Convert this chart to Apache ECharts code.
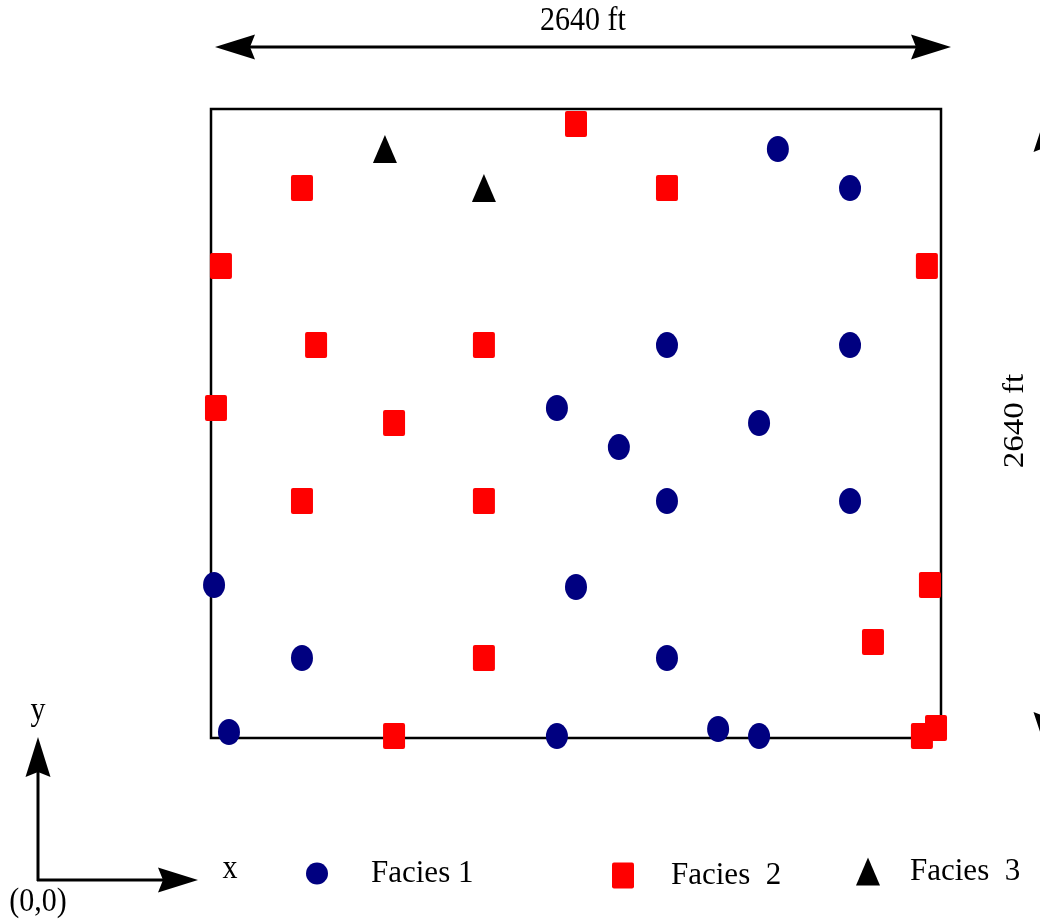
<!DOCTYPE html>
<html>
<head>
<meta charset="utf-8">
<script src="https://cdn.jsdelivr.net/npm/echarts@6/dist/echarts.min.js"></script>
<style>
html,body{margin:0;padding:0;background:#fff;}
#chart{width:1040px;height:920px;}
</style>
</head>
<body>
<div id="chart"></div>
<script>
// Data (feet, origin at lower-left of the 2640 ft section)
const extentFt = 2640;
const facies1X = [2050, 2311, 1649, 2311, 1251, 1475, 1982, 1649, 2311, 11, 1320, 329, 1649, 65, 1251, 1834, 1982];
const facies1Y = [2472, 2308, 1649, 1649, 1385, 1221, 1322, 995, 995, 642, 634, 336, 336, 25, 8, 38, 8];
const facies2X = [1320, 329, 1649, 36, 2589, 380, 987, 18, 662, 329, 987, 2600, 2394, 987, 662, 2571, 2622];
const facies2Y = [2577, 2308, 2308, 1981, 1981, 1649, 1649, 1385, 1322, 995, 995, 642, 403, 336, 8, 8, 42];
const facies3X = [629, 987];
const facies3Y = [2472, 2308];
const seriesNames = ['Facies 1', 'Facies  2', 'Facies  3'];
const dimLabel = '2640 ft';

const zip = (xs, ys) => xs.map((x, i) => [x, ys[i]]);
const serif = '"Liberation Serif", "DejaVu Serif", serif';
const rectSymbol = 'path://M2,0 H20 Q22,0 22,2 V24 Q22,26 20,26 H2 Q0,26 0,24 V2 Q0,0 2,0 Z';

function arrowHead(tx, ty, dx, dy, L, W, notch) {
  const nx = -dy, ny = dx;
  return [
    [tx, ty],
    [tx - dx * L + nx * W, ty - dy * L + ny * W],
    [tx - dx * (L - notch), ty - dy * (L - notch)],
    [tx - dx * L - nx * W, ty - dy * L - ny * W]
  ];
}
const AL = 40, AW = 12.5, AN = 5;
const blk = { fill: '#000' };
const lineStyle = { stroke: '#000', lineWidth: 3 };
const txt = (x, y, text, extra) => Object.assign({
  type: 'text', x: x, y: y, scaleY: 1.1,
  style: { text: text, font: '30px ' + serif, fill: '#000', textAlign: 'center', textVerticalAlign: 'middle' }
}, extra || {});

const graphics = [
  // top dimension arrow
  { type: 'line', shape: { x1: 225, y1: 47, x2: 940, y2: 47 }, style: lineStyle },
  { type: 'polygon', shape: { points: arrowHead(215, 47, -1, 0, AL, AW, AN) }, style: blk },
  { type: 'polygon', shape: { points: arrowHead(951, 47, 1, 0, AL, AW, AN) }, style: blk },
  txt(583, 21, dimLabel),
  // right dimension arrow (mostly off canvas)
  { type: 'line', shape: { x1: 1046, y1: 126, x2: 1046, y2: 738 }, style: lineStyle },
  { type: 'polygon', shape: { points: arrowHead(1046, 114, 0, -1, 38, 12.5, AN) }, style: blk },
  { type: 'polygon', shape: { points: arrowHead(1046, 750, 0, 1, 38, 12.5, AN) }, style: blk },
  { type: 'text', x: 1015, y: 421, rotation: Math.PI / 2, scaleX: 1.1, style: { text: dimLabel, font: '30px ' + serif, fill: '#000', textAlign: 'center', textVerticalAlign: 'middle' } },
  // coordinate axes glyph
  { type: 'line', shape: { x1: 38, y1: 881, x2: 38, y2: 760 }, style: lineStyle },
  { type: 'polygon', shape: { points: arrowHead(38, 737, 0, -1, AL, AW, AN) }, style: blk },
  { type: 'line', shape: { x1: 37, y1: 880, x2: 175, y2: 880 }, style: lineStyle },
  { type: 'polygon', shape: { points: arrowHead(198, 880, 1, 0, AL, AW, AN) }, style: blk },
  txt(38, 711, 'y'),
  txt(230, 869, 'x'),
  txt(38, 902, '(0,0)')
];

const legendText = (pad) => ({ fontFamily: serif, fontSize: 31, color: '#000', padding: [0, 0, 0, pad] });

const chart = echarts.init(document.getElementById('chart'), null, { renderer: 'canvas' });
chart.setOption({
  animation: false,
  backgroundColor: '#fff',
  grid: { left: 211, right: 99, top: 109, bottom: 182, show: true, borderColor: '#000', borderWidth: 2.5, backgroundColor: 'transparent' },
  xAxis: { type: 'value', min: 0, max: extentFt, show: false, splitLine: { show: false } },
  yAxis: { type: 'value', min: 0, max: extentFt, show: false, splitLine: { show: false } },
  legend: [
    { data: [seriesNames[0]], left: 301, top: 853, itemWidth: 22, itemHeight: 26, textStyle: legendText(38), itemStyle: { borderWidth: 0 } },
    { data: [seriesNames[1]], left: 607, top: 855, itemWidth: 22, itemHeight: 26, textStyle: legendText(32), itemStyle: { borderWidth: 0 } },
    { data: [seriesNames[2]], left: 851, top: 851, itemWidth: 24, itemHeight: 28, textStyle: legendText(25), itemStyle: { borderWidth: 0 } }
  ],
  series: [
    { name: seriesNames[0], type: 'scatter', clip: false, symbol: 'circle', symbolSize: [22, 26], itemStyle: { color: '#000080', opacity: 1 }, data: zip(facies1X, facies1Y) },
    { name: seriesNames[1], type: 'scatter', clip: false, symbol: rectSymbol, symbolSize: [22, 26], itemStyle: { color: '#ff0000', opacity: 1 }, data: zip(facies2X, facies2Y) },
    { name: seriesNames[2], type: 'scatter', clip: false, symbol: 'triangle', symbolSize: [24, 28], itemStyle: { color: '#000000', opacity: 1 }, data: zip(facies3X, facies3Y) }
  ],
  graphic: graphics
});
</script>
</body>
</html>
